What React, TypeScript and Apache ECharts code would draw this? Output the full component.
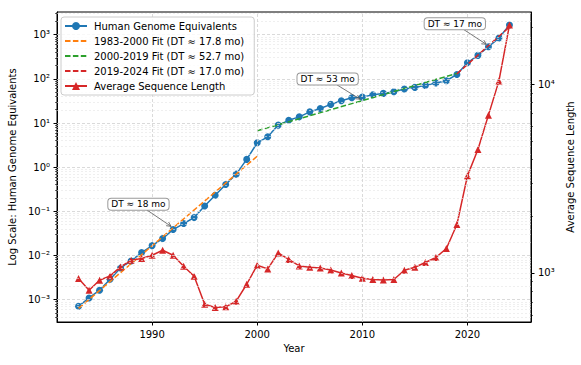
import React, { useEffect, useRef } from 'react';
import * as echarts from 'echarts';

const FONT = 'DejaVu Sans';

const years = [
  1983, 1984, 1985, 1986, 1987, 1988, 1989, 1990, 1991, 1992, 1993,
  1994, 1995, 1996, 1997, 1998, 1999, 2000, 2001, 2002, 2003, 2004,
  2005, 2006, 2007, 2008, 2009, 2010, 2011, 2012, 2013, 2014,
  2015, 2016, 2017, 2018, 2019, 2020, 2021, 2022, 2023, 2024,
];
const genomeEquivalents = [
  7.05e-4, 1.09e-3, 1.63e-3, 2.88e-3, 5.2e-3, 7.5e-3, 1.16e-2, 1.67e-2, 2.41e-2, 3.86e-2, 5.28e-2,
  0.0723, 0.132, 0.232, 0.405, 0.694, 1.5, 3.56, 4.87, 8.96, 11.5, 13.8,
  17.9, 21.4, 26.4, 31.9, 37.2, 38.6, 43.5, 46.9, 51, 58.7,
  64.1, 71.2, 80.4, 90.6, 126, 232, 341, 535, 841, 1660,
];
const avgSeqLength = [
  934, 809, 915, 964, 1076, 1168, 1192, 1241, 1319, 1241, 1085,
  961, 682, 656, 661, 708, 871, 1099, 1050, 1276, 1178, 1089,
  1072, 1063, 1037, 1000, 969, 937, 923, 918, 923, 1033,
  1072, 1135, 1207, 1347, 1805, 3266, 4510, 6850, 10400, 20560,
];

const fitAYears = [1983, 2000];
const fitAValues = [6.3e-4, 1.77];
const fitBYears = [2000, 2019];
const fitBValues = [6.65, 133];
const fitCYears = [2019, 2024];
const fitCValues = [130, 1500];

const seriesNames = [
  'Human Genome Equivalents',
  '1983-2000 Fit (DT ≈ 17.8 mo)',
  '2000-2019 Fit (DT ≈ 52.7 mo)',
  '2019-2024 Fit (DT ≈ 17.0 mo)',
  'Average Sequence Length',
];

const xTicks = [1990, 2000, 2010, 2020];
const leftTickExponents = [-3, -2, -1, 0, 1, 2, 3];
const rightTickExponents = [3, 4];

const annotationTexts = ['DT ≈ 18 mo', 'DT ≈ 53 mo', 'DT ≈ 17 mo'];
const annotationTextAt = [[1988.7, 0.145], [2006.7, 99], [2018.8, 1775]];
const annotationPointAt = [[1992, 0.0423], [2010, 32.3], [2022, 564]];

const X_MIN = 1980.95;
const X_MAX = 2026.05;
const LEFT_MIN = -3.508;
const LEFT_MAX = 3.515;
const RIGHT_MIN = 2.74;
const RIGHT_MAX = 4.382;

const SUP: Record<string, string> = {
  '-': '⁻', '0': '⁰', '1': '¹', '2': '²', '3': '³', '4': '⁴',
  '5': '⁵', '6': '⁶', '7': '⁷', '8': '⁸', '9': '⁹',
};
const powLabel = (v: number) =>
  '10' + String(Math.round(v)).split('').map((c) => SUP[c] || c).join('');

function minorLogs(lo: number, hi: number): number[] {
  const out: number[] = [];
  for (let n = Math.floor(lo) - 1; n <= Math.ceil(hi); n++) {
    for (let k = 2; k <= 9; k++) {
      const l = n + Math.log10(k);
      if (l >= lo && l <= hi) out.push(l);
    }
  }
  return out;
}

const toPairs = (xs: number[], vs: number[]) => xs.map((x, i) => [x, Math.log10(vs[i])]);

export default function App() {
  const ref = useRef<HTMLDivElement>(null);

  useEffect(() => {
    if (!ref.current) return;
    const chart = echarts.init(ref.current, null, { renderer: 'svg' });

    const leftMinor = minorLogs(LEFT_MIN, LEFT_MAX);
    const rightMinor = minorLogs(RIGHT_MIN, RIGHT_MAX);

    const gridLineData: any[] = [];
    leftMinor.forEach((v) =>
      gridLineData.push({ yAxis: v, lineStyle: { color: '#e4e4e4', width: 0.6, type: [2, 2] } })
    );
    leftTickExponents.forEach((v) =>
      gridLineData.push({ yAxis: v, lineStyle: { color: '#d0d0d0', width: 0.8, type: [3, 2] } })
    );
    xTicks.forEach((v) =>
      gridLineData.push({ xAxis: v, lineStyle: { color: '#d0d0d0', width: 0.8, type: [3, 2] } })
    );

    const axisText = { fontSize: 10, color: '#000', fontFamily: FONT };
    const blackLine = { color: '#000', width: 1 };
    const hiddenSymbol = { opacity: 0 };

    const option: any = {
      animation: false,
      textStyle: { fontFamily: FONT },
      grid: {
        left: 57, top: 12, width: 474, height: 310,
        show: true, borderColor: '#000', borderWidth: 1, backgroundColor: 'transparent',
        outerBoundsMode: 'none', containLabel: false,
      },
      legend: {
        orient: 'vertical', left: 61, top: 17,
        padding: [4, 10, 4, 3],
        itemWidth: 22, itemHeight: 10, itemGap: 5,
        backgroundColor: 'rgba(255,255,255,0.8)',
        borderColor: '#cccccc', borderWidth: 1, borderRadius: 3,
        textStyle: { fontSize: 10, color: '#000', fontFamily: FONT, padding: [0, 0, 0, 2] },
        data: [
          { name: seriesNames[0] },
          { name: seriesNames[1], itemStyle: hiddenSymbol },
          { name: seriesNames[2], itemStyle: hiddenSymbol },
          { name: seriesNames[3], itemStyle: hiddenSymbol },
          { name: seriesNames[4] },
        ],
        selectedMode: false,
        z: 20,
      },
      xAxis: {
        type: 'value', min: X_MIN, max: X_MAX,
        name: 'Year', nameLocation: 'middle', nameGap: 20, nameTextStyle: axisText,
        axisLine: { show: true, onZero: false, lineStyle: blackLine },
        axisTick: { show: true, length: 3.5, customValues: xTicks, lineStyle: blackLine },
        axisLabel: { customValues: xTicks, ...axisText, margin: 7, formatter: (v: number) => String(v) },
        splitLine: { show: false },
      },
      yAxis: [
        {
          type: 'value', position: 'left', min: LEFT_MIN, max: LEFT_MAX,
          name: 'Log Scale: Human Genome Equivalents', nameLocation: 'middle', nameRotate: 90,
          nameGap: 34, nameTextStyle: axisText,
          axisLine: { show: true, onZero: false, lineStyle: blackLine },
          axisTick: { show: true, length: 3.5, customValues: leftTickExponents, lineStyle: blackLine },
          axisLabel: { customValues: leftTickExponents, ...axisText, margin: 7, formatter: powLabel },
          splitLine: { show: false },
        },
        {
          type: 'value', position: 'right', min: RIGHT_MIN, max: RIGHT_MAX,
          name: 'Average Sequence Length', nameLocation: 'middle', nameRotate: 90,
          nameGap: 24, nameTextStyle: axisText,
          axisLine: { show: true, onZero: false, lineStyle: blackLine },
          axisTick: { show: true, length: 3.5, customValues: rightTickExponents, lineStyle: blackLine },
          axisLabel: { customValues: rightTickExponents, ...axisText, margin: 7, formatter: powLabel },
          splitLine: { show: false },
        },
        {
          type: 'value', position: 'left', min: LEFT_MIN, max: LEFT_MAX,
          axisLine: { show: false, onZero: false },
          axisTick: { show: true, length: 2, customValues: leftMinor, lineStyle: { color: '#000', width: 0.6 } },
          axisLabel: { show: false },
          splitLine: { show: false },
        },
        {
          type: 'value', position: 'right', min: RIGHT_MIN, max: RIGHT_MAX,
          axisLine: { show: false, onZero: false },
          axisTick: { show: true, length: 2, customValues: rightMinor, lineStyle: { color: '#000', width: 0.6 } },
          axisLabel: { show: false },
          splitLine: { show: false },
        },
      ],
      series: [
        {
          type: 'line', xAxisIndex: 0, yAxisIndex: 0, data: [], silent: true, z: 0,
          markLine: { silent: true, symbol: ['none', 'none'], label: { show: false }, animation: false, data: gridLineData },
        },
        {
          name: seriesNames[0], type: 'line', yAxisIndex: 0,
          data: toPairs(years, genomeEquivalents),
          symbol: 'circle', symbolSize: 7,
          lineStyle: { color: '#1f77b4', width: 1.5 },
          itemStyle: { color: '#1f77b4' },
          color: '#1f77b4', z: 2,
        },
        {
          name: seriesNames[1], type: 'line', yAxisIndex: 0,
          data: toPairs(fitAYears, fitAValues), symbol: 'none',
          lineStyle: { color: '#ff7f0e', width: 1.5, type: [5.5, 2.4] },
          itemStyle: { color: '#ff7f0e' }, color: '#ff7f0e', z: 3,
        },
        {
          name: seriesNames[2], type: 'line', yAxisIndex: 0,
          data: toPairs(fitBYears, fitBValues), symbol: 'none',
          lineStyle: { color: '#2ca02c', width: 1.5, type: [5.5, 2.4] },
          itemStyle: { color: '#2ca02c' }, color: '#2ca02c', z: 3,
        },
        {
          name: seriesNames[3], type: 'line', yAxisIndex: 0,
          data: toPairs(fitCYears, fitCValues), symbol: 'none',
          lineStyle: { color: '#d62728', width: 1.5, type: [5.5, 2.4] },
          itemStyle: { color: '#d62728' }, color: '#d62728', z: 3,
        },
        {
          name: seriesNames[4], type: 'line', yAxisIndex: 1,
          data: toPairs(years, avgSeqLength),
          symbol: 'triangle', symbolSize: 7,
          lineStyle: { color: '#d62728', width: 1.5 },
          itemStyle: { color: '#d62728' }, color: '#d62728', z: 4,
        },
      ],
    };

    chart.setOption(option);

    const graphics: any[] = [];
    annotationTexts.forEach((txt, i) => {
      const tp = chart.convertToPixel({ xAxisIndex: 0, yAxisIndex: 0 } as any, [
        annotationTextAt[i][0], Math.log10(annotationTextAt[i][1]),
      ]) as number[];
      const pp = chart.convertToPixel({ xAxisIndex: 0, yAxisIndex: 0 } as any, [
        annotationPointAt[i][0], Math.log10(annotationPointAt[i][1]),
      ]) as number[];
      const dx = pp[0] - tp[0];
      const dy = pp[1] - tp[1];
      const len = Math.sqrt(dx * dx + dy * dy) || 1;
      const ux = dx / len;
      const uy = dy / len;
      const tipX = pp[0] - ux * 2.5;
      const tipY = pp[1] - uy * 2.5;
      const hl = 4.5;
      const hw = 2.2;
      graphics.push({
        type: 'line', z: 30, silent: true,
        shape: { x1: tp[0], y1: tp[1], x2: tipX, y2: tipY },
        style: { stroke: '#555', lineWidth: 0.8 },
      });
      graphics.push({
        type: 'polyline', z: 30, silent: true,
        shape: {
          points: [
            [tipX - ux * hl - uy * hw, tipY - uy * hl + ux * hw],
            [tipX, tipY],
            [tipX - ux * hl + uy * hw, tipY - uy * hl - ux * hw],
          ],
        },
        style: { stroke: '#555', lineWidth: 0.8, fill: null },
      });
      graphics.push({
        type: 'text', z: 31, silent: true, x: tp[0], y: tp[1],
        style: {
          text: txt, fontSize: 9, fontFamily: FONT, fill: '#000',
          align: 'center', verticalAlign: 'middle',
          backgroundColor: '#fff', borderColor: '#9a9a9a', borderWidth: 1, borderRadius: 3,
          padding: [1, 3, 1, 3],
        },
      });
    });
    chart.setOption({ graphic: graphics });

    return () => chart.dispose();
  }, []);

  return (
    <div
      ref={ref}
      style={{ position: 'absolute', left: 0, top: 0, width: 581, height: 365, background: '#fff' }}
    />
  );
}
